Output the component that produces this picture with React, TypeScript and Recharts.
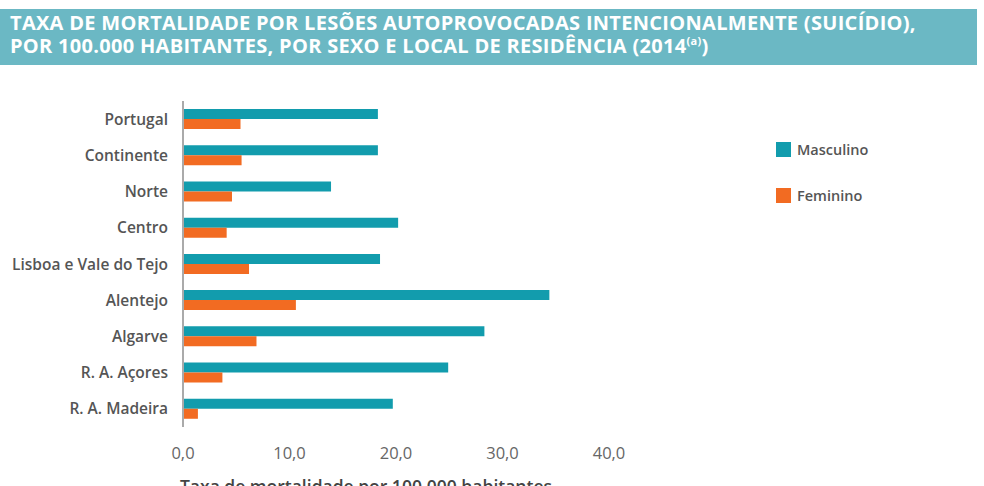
import { Bar, BarChart, Label, XAxis, YAxis } from "recharts";

const regions = [
  "Portugal",
  "Continente",
  "Norte",
  "Centro",
  "Lisboa e Vale do Tejo",
  "Alentejo",
  "Algarve",
  "R. A. Açores",
  "R. A. Madeira"
];
const masculino = [18.3, 18.3, 13.9, 20.2, 18.5, 34.4, 28.3, 24.9, 19.7];
const feminino = [5.4, 5.5, 4.6, 4.1, 6.2, 10.6, 6.9, 3.7, 1.4];
const xTicks = [0, 10, 20, 30, 40];

const series = [
  { key: "masculino", name: "Masculino", color: "#129cad" },
  { key: "feminino", name: "Feminino", color: "#f26b22" }
];

const data = regions.map((region, i) => ({
  region,
  masculino: masculino[i],
  feminino: feminino[i]
}));

const FONT = "'Open Sans', sans-serif";

export default function App() {
  return (
    <div style={{ position: "absolute", left: 0, top: 0, width: 984, height: 486, background: "#fff", overflow: "hidden" }}>
      <div
        style={{
          position: "absolute",
          left: 0,
          top: 9,
          width: 977,
          height: 56,
          background: "#6bb8c4",
          color: "#fff",
          fontFamily: FONT,
          fontWeight: 700,
          fontSize: 20,
          lineHeight: "23px",
          padding: "2px 0 0 10px",
          boxSizing: "border-box",
          letterSpacing: 0.3,
          whiteSpace: "nowrap"
        }}
      >
        <div>TAXA DE MORTALIDADE POR LESÕES AUTOPROVOCADAS INTENCIONALMENTE (SUICÍDIO),</div>
        <div>
          POR 100.000 HABITANTES, POR SEXO E LOCAL DE RESIDÊNCIA (2014
          <sup style={{ fontSize: 11, verticalAlign: "top", lineHeight: "14px" }}>(a)</sup>)
        </div>
      </div>
      <BarChart
        width={984}
        height={486}
        data={data}
        layout="vertical"
        margin={{ top: 101, right: 375, bottom: 29, left: 8 }}
        barGap={0}
        barSize={10}
        style={{ position: "absolute", left: 0, top: 0 }}
      >
        <XAxis
          type="number"
          domain={[0, 40]}
          ticks={xTicks}
          tickFormatter={(v) => Number(v).toFixed(1).replace(".", ",")}
          axisLine={false}
          tickLine={false}
          tickSize={0}
          tickMargin={20}
          height={30}
          tick={{ fill: "#666", fontSize: 16.5, fontFamily: FONT }}
        >
          <Label
            value="Taxa de mortalidade por 100.000 habitantes"
            position="insideBottom"
            offset={-36}
            dx={-30}
            style={{ fill: "#444", fontSize: 17.5, fontFamily: FONT, fontWeight: 600 }}
          />
        </XAxis>
        <YAxis
          type="category"
          dataKey="region"
          width={175}
          axisLine={{ stroke: "#aaa", strokeWidth: 2 }}
          tickLine={false}
          tickSize={0}
          tickMargin={15}
          interval={0}
          tick={{ fill: "#555", fontSize: 15.5, fontFamily: FONT, fontWeight: 600 }}
        />
        {series.map((s) => (
          <Bar key={s.key} dataKey={s.key} name={s.name} fill={s.color} isAnimationActive={false} />
        ))}
      </BarChart>
      <div style={{ position: "absolute", left: 776, top: 142 }}>
        {series.map((s) => (
          <div key={s.key} style={{ display: "flex", alignItems: "center", height: 15, marginBottom: 31 }}>
            <span style={{ width: 15, height: 15, background: s.color, marginRight: 6 }} />
            <span style={{ fontFamily: FONT, fontSize: 14.5, fontWeight: 600, color: "#555" }}>{s.name}</span>
          </div>
        ))}
      </div>
    </div>
  );
}
